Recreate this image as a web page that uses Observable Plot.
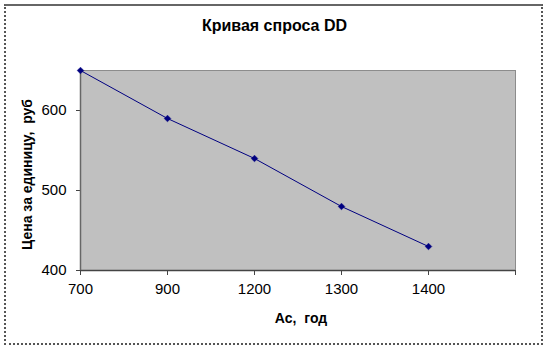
<!DOCTYPE html>
<html>
<head>
<meta charset="utf-8">
<script src="https://cdn.jsdelivr.net/npm/d3@7"></script>
<script src="https://cdn.jsdelivr.net/npm/@observablehq/plot@0.6"></script>
<style>
  html, body { margin: 0; padding: 0; background: #fff; }
  #wrap { position: relative; width: 548px; height: 351px; overflow: hidden; font-family: "Liberation Sans", Arial, sans-serif; }
  #frame { position: absolute; left: 4px; top: 4px; width: 535px; height: 337px;
           border-left: 2px dotted #555; border-right: 2px dotted #555; border-bottom: 2px dotted #555; border-top: 2px solid #666; }
  #chart { position: absolute; left: 0; top: 0; }
</style>
</head>
<body>
<div id="wrap">
  <div id="frame"></div>
  <div id="chart"></div>
</div>
<script>
const categories = ["700", "900", "1200", "1300", "1400"];
const prices = [650, 590, 540, 480, 430];
const yTicks = [400, 500, 600];
const title = "Кривая спроса DD";
const xLabel = "Ас,  год";
const yLabel = "Цена за единицу,  руб";

const data = categories.map((c, i) => ({i, cat: c, price: prices[i]}));

const chart = Plot.plot({
  width: 548,
  height: 351,
  marginLeft: 80,
  marginRight: 33,
  marginTop: 70,
  marginBottom: 81,
  style: {fontFamily: "'Liberation Sans', Arial, sans-serif", fontSize: "15px", background: "transparent", color: "#000", overflow: "visible"},
  x: {type: "linear", domain: [0, categories.length]},
  y: {domain: [400, 650]},
  marks: [
    Plot.frame({fill: "#c0c0c0", stroke: "#8c8c8c"}),
    Plot.axisX({ticks: d3.range(categories.length + 1), tickFormat: d => categories[d] ?? "", tickSize: 5, tickPadding: 8, stroke: "#444", fill: "#000", fontSize: 15, label: null}),
    Plot.axisY({ticks: yTicks, tickSize: 4, tickPadding: 10, stroke: "#444", fill: "#000", fontSize: 15, label: null}),
    Plot.ruleY([400], {stroke: "#444", strokeWidth: 1.5}),
    Plot.ruleX([0], {stroke: "#666", strokeWidth: 1.5}),
    Plot.text([title], {frameAnchor: "top", dx: -23.5, dy: -40, lineAnchor: "bottom", fontWeight: "bold", fontSize: 16, fill: "#000"}),
    Plot.text([xLabel], {frameAnchor: "bottom", dx: 3, dy: 52, fontWeight: "bold", fontSize: 14, fill: "#000"}),
    Plot.text([yLabel], {frameAnchor: "left", textAnchor: "middle", lineAnchor: "middle", dx: -53, dy: 4, rotate: -90, fontWeight: "bold", fontSize: 14, fill: "#000"}),
    Plot.line(data, {x: "i", y: "price", stroke: "#000080", strokeWidth: 1}),
    Plot.dot(data, {x: "i", y: "price", symbol: "diamond2", r: 3, fill: "#000080", stroke: "#000080", strokeWidth: 0.5})
  ]
});
document.getElementById("chart").appendChild(chart);
</script>
</body>
</html>
